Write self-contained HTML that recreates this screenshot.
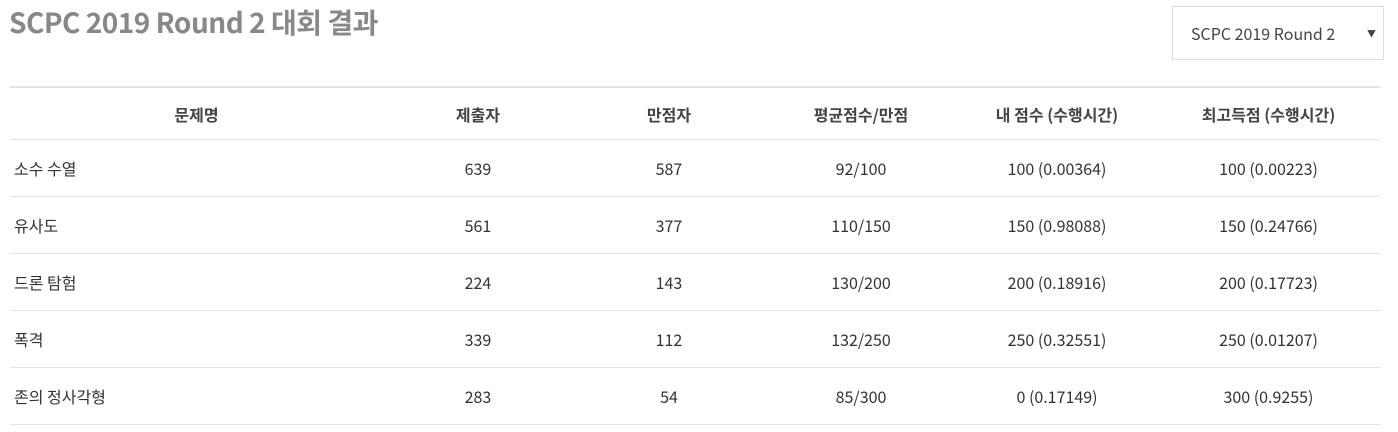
<!DOCTYPE html>
<html><head><meta charset="utf-8"><style>
body{margin:0;width:1398px;height:432px;background:#fff;font-family:"Noto Sans CJK KR","Liberation Sans",sans-serif;color:#333;position:relative;overflow:hidden}
h1{position:absolute;left:9px;top:0px;margin:0;font-size:28px;line-height:44px;font-weight:bold;color:#888;letter-spacing:-0.5px}
.sel{position:absolute;left:1172px;top:6px;width:212px;height:54px;border:1px solid #ddd;box-sizing:border-box;font-size:16px;color:#444;line-height:52px}
.sel span{position:absolute;left:18px}
.sel i{position:absolute;left:194px;top:1px;font-style:normal;font-size:9px}
table{position:absolute;left:10px;top:86px;width:1370px;border-collapse:collapse;border-top:2px solid #e2e2e2;font-size:16px}
td,th{border-bottom:1px solid #e2e2e2;text-align:center;padding:1px 0 0 0;box-sizing:border-box}
td{height:57px}
th{font-weight:bold;color:#444;height:52px}
td:first-child{text-align:left;padding-left:4px}
</style></head><body>
<h1>SCPC 2019 Round 2 대회 결과</h1>
<div class="sel"><span>SCPC 2019 Round 2</span><i>▼</i></div>
<table>
<colgroup><col style="width:373px"><col style="width:190px"><col style="width:192px"><col style="width:192px"><col style="width:200px"><col style="width:223px"></colgroup>
<tr><th style="text-align:center">문제명</th><th>제출자</th><th>만점자</th><th>평균점수/만점</th><th>내 점수 (수행시간)</th><th>최고득점 (수행시간)</th></tr>
<tr><td>소수 수열</td><td>639</td><td>587</td><td>92/100</td><td>100 (0.00364)</td><td>100 (0.00223)</td></tr>
<tr><td>유사도</td><td>561</td><td>377</td><td>110/150</td><td>150 (0.98088)</td><td>150 (0.24766)</td></tr>
<tr><td>드론 탐험</td><td>224</td><td>143</td><td>130/200</td><td>200 (0.18916)</td><td>200 (0.17723)</td></tr>
<tr><td>폭격</td><td>339</td><td>112</td><td>132/250</td><td>250 (0.32551)</td><td>250 (0.01207)</td></tr>
<tr><td>존의 정사각형</td><td>283</td><td>54</td><td>85/300</td><td>0 (0.17149)</td><td>300 (0.9255)</td></tr>
</table>
</body></html>
